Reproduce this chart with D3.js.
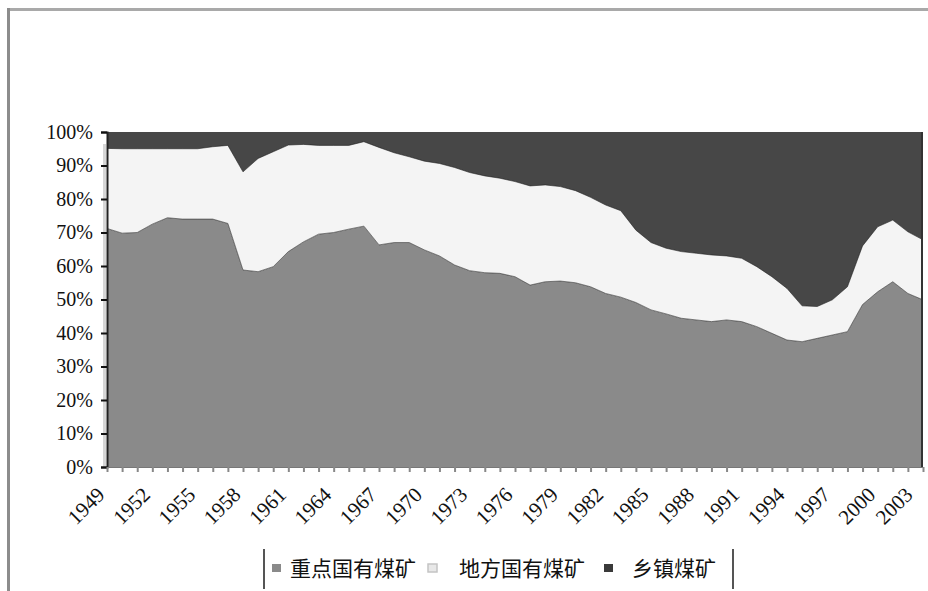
<!DOCTYPE html>
<html>
<head>
<meta charset="utf-8">
<script src="https://cdn.jsdelivr.net/npm/d3@7/dist/d3.min.js"></script>
<style>
  body { margin: 0; background: #fff; }
  svg { display: block; }
</style>
</head>
<body>
<svg id="chart" width="928" height="591"></svg>
<script>
// Share of national coal output by mine type, 1949–2003 (percent)
const years = [
  1949, 1950, 1951, 1952, 1953, 1954, 1955, 1956, 1957, 1958,
  1959, 1960, 1961, 1962, 1963, 1964, 1965, 1966, 1967, 1968,
  1969, 1970, 1971, 1972, 1973, 1974, 1975, 1976, 1977, 1978,
  1979, 1980, 1981, 1982, 1983, 1984, 1985, 1986, 1987, 1988,
  1989, 1990, 1991, 1992, 1993, 1994, 1995, 1996, 1997, 1998,
  1999, 2000, 2001, 2002, 2003
];

// 重点国有煤矿 (key state-owned mines)
const keyStateMines = [
  71.2, 69.8, 70.0, 72.5, 74.4, 74.0, 74.0, 74.0, 72.7, 58.8,
  58.3, 59.8, 64.3, 67.2, 69.5, 70.0, 71.0, 71.9, 66.3, 67.0,
  67.0, 64.8, 63.0, 60.3, 58.6, 58.0, 57.8, 56.8, 54.3, 55.3,
  55.5, 55.0, 53.8, 51.8, 50.7, 49.1, 46.9, 45.7, 44.4, 43.9,
  43.4, 43.9, 43.4, 41.9, 39.9, 37.9, 37.4, 38.4, 39.4, 40.4,
  48.5, 52.3, 55.3, 51.8, 49.9
];

// 地方国有煤矿 (local state-owned mines)
const localStateMines = [
  23.9, 25.2, 25.0, 22.5, 20.6, 21.0, 21.0, 21.6, 23.3, 29.3,
  33.8, 34.3, 31.8, 29.1, 26.5, 26.0, 25.0, 25.2, 29.1, 26.8,
  25.6, 26.5, 27.6, 29.1, 29.3, 28.9, 28.4, 28.4, 29.6, 28.9,
  28.2, 27.5, 26.7, 26.4, 25.8, 21.6, 20.1, 19.6, 19.9, 19.9,
  19.9, 19.1, 18.9, 17.9, 16.9, 15.4, 10.7, 9.5, 10.5, 13.4,
  17.5, 19.4, 18.4, 18.4, 17.9
];

// 乡镇煤矿 (township mines)
const townshipMines = [
  4.9, 5.0, 5.0, 5.0, 5.0, 5.0, 5.0, 4.4, 4.0, 11.9,
  7.9, 5.9, 3.9, 3.7, 4.0, 4.0, 4.0, 2.9, 4.6, 6.2,
  7.4, 8.7, 9.4, 10.6, 12.1, 13.1, 13.8, 14.8, 16.1, 15.8,
  16.3, 17.5, 19.5, 21.8, 23.5, 29.3, 33.0, 34.7, 35.7, 36.2,
  36.7, 37.0, 37.7, 40.2, 43.2, 46.7, 51.9, 52.1, 50.1, 46.2,
  34.0, 28.3, 26.3, 29.8, 32.2
];

const seriesNames = ["重点国有煤矿", "地方国有煤矿", "乡镇煤矿"];
const labelYears = [1949, 1952, 1955, 1958, 1961, 1964, 1967, 1970, 1973,
  1976, 1979, 1982, 1985, 1988, 1991, 1994, 1997, 2000, 2003];
const yTicks = [0, 0.1, 0.2, 0.3, 0.4, 0.5, 0.6, 0.7, 0.8, 0.9, 1];

const fills = ["#8a8a8a", "#f4f4f4", "#474747"];
const legendFills = ["#8a8a8a", "#e8e8e8", "#3a3a3a"];

const W = 928, H = 591;
const plot = { left: 107, right: 923, top: 132, bottom: 467 };

const svg = d3.select("#chart");

// Outer frame (top and left edges)
svg.append("rect").attr("x", 7).attr("y", 8).attr("width", W - 7).attr("height", 3).attr("fill", "#a9a9a9");
svg.append("rect").attr("x", 7).attr("y", 8).attr("width", 3).attr("height", H - 8).attr("fill", "#8c8c8c");

const rows = years.map((yr, i) => ({
  year: yr,
  [seriesNames[0]]: keyStateMines[i],
  [seriesNames[1]]: localStateMines[i],
  [seriesNames[2]]: townshipMines[i]
}));

const stacked = d3.stack().keys(seriesNames).offset(d3.stackOffsetExpand)(rows);

const x = d3.scalePoint().domain(years).range([plot.left, plot.right]);
const y = d3.scaleLinear().domain([0, 1]).range([plot.bottom, plot.top]);

const area = d3.area()
  .x(d => x(d.data.year))
  .y0(d => y(d[0]))
  .y1(d => y(d[1]));

const topLine = d3.line()
  .x(d => x(d.data.year))
  .y(d => y(d[1]));

const g = svg.append("g");

g.selectAll("path.layer")
  .data(stacked)
  .join("path")
  .attr("class", "layer")
  .attr("fill", (d, i) => fills[i])
  .attr("d", area);

// thin dark edges between the layers
g.selectAll("path.edge")
  .data(stacked.slice(0, 2))
  .join("path")
  .attr("class", "edge")
  .attr("fill", "none")
  .attr("stroke", "#1a1a1a")
  .attr("stroke-opacity", 0.55)
  .attr("stroke-width", 1)
  .attr("d", topLine);

// light strip just left of the value axis
svg.append("rect")
  .attr("x", plot.left - 4).attr("y", plot.top + 12)
  .attr("width", 3).attr("height", plot.bottom - plot.top - 12)
  .attr("fill", "#d6d6d6");

// plot edges
svg.append("line")
  .attr("x1", plot.right - 1).attr("x2", plot.right - 1)
  .attr("y1", plot.top).attr("y2", plot.bottom)
  .attr("stroke", "#333").attr("stroke-width", 2);

// Y axis
const yAxis = d3.axisLeft(y)
  .tickValues(yTicks)
  .tickFormat(d3.format(".0%"))
  .tickSize(6)
  .tickPadding(8);

const yg = svg.append("g")
  .attr("transform", `translate(${plot.left},0)`)
  .call(yAxis);
yg.select(".domain").attr("stroke", "#222").attr("stroke-width", 2);
yg.selectAll(".tick line").attr("stroke", "#111").attr("stroke-width", 2);
yg.selectAll(".tick text")
  .attr("fill", "#111")
  .style("font-family", "'Liberation Serif', 'Times New Roman', serif")
  .style("font-size", "20px");

// X axis: a short tick under every year
const xAxis = d3.axisBottom(x).tickSize(5).tickFormat("");
const xg = svg.append("g")
  .attr("transform", `translate(0,${plot.bottom})`)
  .call(xAxis);
xg.select(".domain").attr("stroke", "#777").attr("stroke-width", 1);
xg.selectAll(".tick line").attr("stroke", "#888").attr("stroke-width", 2);

// rotated year labels every third year
svg.append("g")
  .selectAll("text")
  .data(labelYears)
  .join("text")
  .attr("transform", d => `translate(${Math.min(x(d) - 1, W - 14)},${plot.bottom + 29}) rotate(-45)`)
  .attr("text-anchor", "end")
  .attr("fill", "#111")
  .style("font-family", "'Liberation Serif', 'Times New Roman', serif")
  .style("font-size", "21px")
  .text(d => d);

// Legend
const legend = svg.append("g");
legend.append("line").attr("x1", 264).attr("x2", 264).attr("y1", 549).attr("y2", 589)
  .attr("stroke", "#555").attr("stroke-width", 2);
legend.append("line").attr("x1", 733).attr("x2", 733).attr("y1", 549).attr("y2", 589)
  .attr("stroke", "#555").attr("stroke-width", 2);

const legendX = [272, 428, 604];
const legendTextX = [290, 459, 632];
const items = legend.selectAll("g.item")
  .data(seriesNames)
  .join("g")
  .attr("class", "item");

items.append("rect")
  .attr("x", (d, i) => legendX[i])
  .attr("y", 564)
  .attr("width", 9)
  .attr("height", 8)
  .attr("fill", (d, i) => legendFills[i])
  .attr("stroke", (d, i) => i === 1 ? "#c4c4c4" : "none")
  .attr("stroke-width", 1.5);

items.append("text")
  .attr("x", (d, i) => legendTextX[i])
  .attr("y", 576)
  .attr("fill", "#111")
  .style("font-family", "'Noto Sans CJK SC', 'Noto Sans', sans-serif")
  .style("font-size", "21px")
  .text(d => d);
</script>
</body>
</html>
